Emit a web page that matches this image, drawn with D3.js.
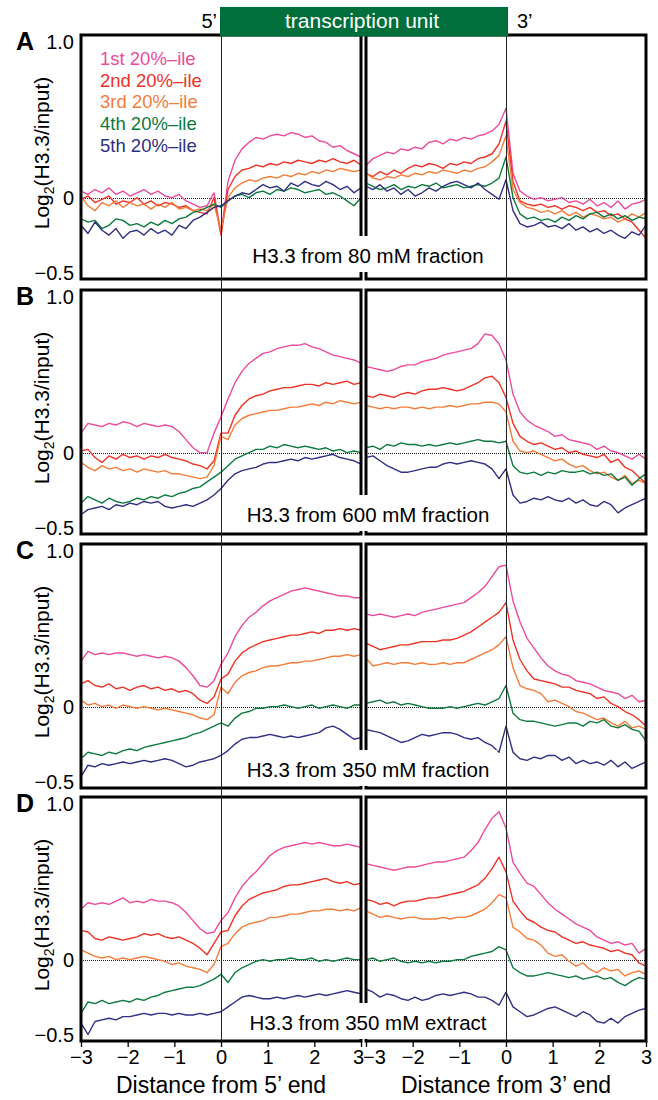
<!DOCTYPE html>
<html>
<head>
<meta charset="utf-8">
<script src="https://cdn.jsdelivr.net/npm/d3@7"></script>
<style>
body { margin: 0; background: #fff; }
svg text { font-family: "Liberation Sans", Arial, Helvetica, sans-serif; }
</style>
</head>
<body>
<div id="dataviz"></div>
<script>
// distance from the end (kb), shared by all profiles
var distance = [-3,-2.85,-2.7,-2.55,-2.4,-2.25,-2.1,-1.95,-1.8,-1.65,
  -1.5,-1.35,-1.2,-1.05,-0.9,-0.75,-0.6,-0.45,-0.3,-0.15,
  0,0.15,0.3,0.45,0.6,0.75,0.9,1.05,1.2,1.35,
  1.5,1.65,1.8,1.95,2.1,2.25,2.4,2.55,2.7,2.85,3];

var seriesNames = ["1st 20%\u2013ile", "2nd 20%\u2013ile", "3rd 20%\u2013ile", "4th 20%\u2013ile", "5th 20%\u2013ile"];
var seriesColors = ["#ec4a9c", "#ee3226", "#f47c3a", "#0d7a3e", "#2e2f85"];
var panelLetters = ["A", "B", "C", "D"];
var panelLabels = ["H3.3 from 80 mM fraction", "H3.3 from 600 mM fraction", "H3.3 from 350 mM fraction", "H3.3 from 350 mM extract"];
var yTicks = [1, 0, -0.5];
var yTickLabels = ["1.0", "0", "\u22120.5"];
var xTicks = [-3, -2, -1, 0, 1, 2, 3];
var xTitles = ["Distance from 5\u2019 end", "Distance from 3\u2019 end"];

// log2(H3.3/input), one row per quintile (1st..5th)
var a5prime = [
  [0.04,0.02,0.05,0.03,0.06,0.02,0.04,0.01,0.03,0.05, 0.02,0.04,0.01,0.00,0.02,-0.02,-0.04,-0.06,-0.05,0.03, -0.22,0.10,0.23,0.30,0.34,0.37,0.36,0.38,0.39,0.38, 0.40,0.39,0.37,0.38,0.35,0.34,0.31,0.32,0.29,0.27, 0.25],
  [-0.01,0.01,-0.03,-0.01,0.01,-0.04,-0.02,-0.03,0.00,-0.04, -0.02,-0.05,-0.03,-0.04,-0.06,-0.05,-0.08,-0.09,-0.10,0.00, -0.23,0.05,0.13,0.17,0.18,0.20,0.19,0.21,0.20,0.22, 0.21,0.23,0.22,0.21,0.23,0.22,0.24,0.22,0.21,0.23, 0.20],
  [0.01,-0.05,-0.08,-0.03,-0.05,-0.02,-0.06,-0.03,-0.05,-0.04, -0.07,-0.04,-0.06,-0.03,-0.07,-0.06,-0.08,-0.07,-0.08,-0.04, -0.20,0.00,0.06,0.09,0.11,0.10,0.12,0.13,0.12,0.14, 0.13,0.15,0.14,0.16,0.15,0.17,0.16,0.18,0.17,0.16, 0.17],
  [-0.13,-0.15,-0.14,-0.19,-0.17,-0.13,-0.14,-0.17,-0.16,-0.18, -0.15,-0.17,-0.14,-0.16,-0.13,-0.12,-0.09,-0.08,-0.06,-0.04, -0.06,-0.02,0.01,0.02,0.00,0.03,0.04,0.02,0.05,0.04, 0.06,0.05,0.03,0.04,0.05,0.02,0.03,0.01,-0.02,-0.05, 0.00],
  [-0.17,-0.22,-0.15,-0.20,-0.23,-0.19,-0.25,-0.21,-0.20,-0.23, -0.19,-0.22,-0.20,-0.23,-0.17,-0.19,-0.14,-0.12,-0.09,-0.06, -0.05,-0.02,0.01,0.03,0.02,0.05,0.08,0.06,0.07,0.04, 0.09,0.07,0.10,0.08,0.07,0.10,0.08,0.05,0.07,0.03, 0.06]
];
var a3prime = [
  [0.20,0.24,0.26,0.28,0.27,0.30,0.29,0.31,0.30,0.34, 0.35,0.33,0.36,0.35,0.37,0.36,0.38,0.39,0.41,0.45, 0.55,0.15,0.04,0.01,-0.01,0.00,-0.02,-0.01,0.00,-0.03, -0.02,-0.04,-0.01,-0.05,-0.03,-0.06,-0.02,-0.07,-0.04,-0.03, -0.01],
  [0.15,0.13,0.16,0.14,0.17,0.15,0.18,0.20,0.19,0.21, 0.20,0.18,0.21,0.20,0.22,0.21,0.24,0.25,0.27,0.33, 0.47,0.10,-0.02,-0.04,-0.05,-0.04,-0.06,-0.05,-0.07,-0.05, -0.06,-0.08,-0.06,-0.09,-0.08,-0.11,-0.10,-0.13,-0.15,-0.20, -0.25],
  [0.15,0.12,0.11,0.13,0.12,0.14,0.13,0.15,0.14,0.16, 0.15,0.17,0.16,0.15,0.17,0.16,0.18,0.19,0.22,0.26, 0.38,0.05,-0.03,-0.06,-0.07,-0.09,-0.08,-0.10,-0.08,-0.11, -0.09,-0.12,-0.10,-0.11,-0.13,-0.12,-0.15,-0.13,-0.10,-0.12, -0.09],
  [0.09,0.07,0.05,0.06,0.08,0.05,0.07,0.06,0.08,0.07, 0.09,0.06,0.07,0.08,0.06,0.07,0.08,0.07,0.09,0.12, 0.25,0.00,-0.10,-0.13,-0.12,-0.14,-0.13,-0.15,-0.12,-0.14, -0.11,-0.13,-0.10,-0.09,-0.12,-0.10,-0.13,-0.11,-0.14,-0.12, -0.13],
  [0.07,0.05,0.08,0.04,0.06,0.02,0.05,0.01,0.03,0.06, 0.04,0.07,0.09,0.10,0.08,0.06,0.09,0.05,0.02,-0.01, 0.11,-0.08,-0.16,-0.18,-0.17,-0.15,-0.18,-0.17,-0.19,-0.16, -0.20,-0.18,-0.21,-0.19,-0.22,-0.20,-0.23,-0.25,-0.21,-0.23, -0.17]
];
var b5prime = [
  [0.12,0.18,0.17,0.16,0.18,0.17,0.19,0.18,0.16,0.18, 0.17,0.16,0.17,0.16,0.13,0.08,0.03,0.00,0.00,0.12, 0.22,0.33,0.43,0.50,0.55,0.58,0.61,0.62,0.64,0.65, 0.66,0.66,0.67,0.65,0.64,0.62,0.60,0.59,0.58,0.57, 0.55],
  [0.01,0.02,-0.03,-0.06,-0.02,-0.04,-0.01,-0.03,-0.02,-0.04, -0.02,-0.03,-0.01,-0.03,-0.04,-0.05,-0.07,-0.08,-0.10,-0.05, 0.12,0.12,0.23,0.29,0.33,0.35,0.36,0.38,0.39,0.40, 0.40,0.41,0.42,0.42,0.41,0.43,0.42,0.43,0.44,0.42, 0.43],
  [-0.06,-0.09,-0.11,-0.08,-0.10,-0.09,-0.11,-0.10,-0.12,-0.10, -0.11,-0.12,-0.11,-0.13,-0.13,-0.14,-0.15,-0.16,-0.15,-0.08, 0.10,0.08,0.17,0.21,0.23,0.24,0.25,0.26,0.26,0.27, 0.28,0.28,0.29,0.30,0.29,0.31,0.30,0.32,0.31,0.30, 0.31],
  [-0.31,-0.27,-0.29,-0.31,-0.28,-0.30,-0.31,-0.30,-0.28,-0.29, -0.27,-0.28,-0.26,-0.27,-0.25,-0.24,-0.22,-0.21,-0.18,-0.15, -0.12,-0.08,-0.04,-0.02,0.00,0.02,0.02,0.04,0.03,0.05, 0.04,0.03,0.04,0.03,0.02,0.03,0.01,0.02,0.00,0.01, 0.00],
  [-0.38,-0.35,-0.34,-0.33,-0.35,-0.32,-0.33,-0.31,-0.32,-0.30, -0.31,-0.30,-0.33,-0.34,-0.33,-0.32,-0.33,-0.31,-0.29,-0.26, -0.22,-0.17,-0.13,-0.11,-0.10,-0.09,-0.07,-0.06,-0.06,-0.05, -0.04,-0.05,-0.03,-0.04,-0.03,-0.02,-0.01,-0.03,-0.04,-0.05, -0.07]
];
var b3prime = [
  [0.53,0.52,0.51,0.50,0.51,0.53,0.54,0.54,0.56,0.57, 0.58,0.60,0.61,0.62,0.63,0.64,0.67,0.73,0.72,0.67, 0.57,0.36,0.25,0.20,0.17,0.15,0.13,0.10,0.11,0.08, 0.07,0.06,0.05,0.02,0.04,0.01,0.00,-0.02,-0.04,-0.01, -0.04],
  [0.35,0.34,0.36,0.35,0.34,0.36,0.37,0.36,0.38,0.39, 0.39,0.40,0.39,0.38,0.39,0.41,0.43,0.46,0.47,0.43, 0.34,0.18,0.10,0.07,0.05,0.06,0.04,0.02,0.03,0.00, 0.01,-0.01,-0.02,-0.03,-0.01,-0.06,-0.04,-0.09,-0.11,-0.15, -0.19],
  [0.29,0.28,0.27,0.28,0.27,0.28,0.28,0.27,0.28,0.27, 0.28,0.28,0.29,0.28,0.29,0.30,0.30,0.31,0.31,0.30, 0.25,0.07,0.01,0.00,0.01,-0.01,-0.03,-0.05,-0.04,-0.07, -0.09,-0.08,-0.11,-0.13,-0.12,-0.15,-0.17,-0.14,-0.19,-0.17, -0.19],
  [0.03,0.04,0.02,0.05,0.04,0.06,0.05,0.05,0.04,0.05, 0.04,0.05,0.06,0.05,0.06,0.07,0.08,0.07,0.07,0.06, 0.07,-0.08,-0.12,-0.13,-0.12,-0.14,-0.12,-0.13,-0.11,-0.12, -0.12,-0.11,-0.13,-0.12,-0.14,-0.13,-0.17,-0.15,-0.20,-0.16, -0.13],
  [-0.03,-0.02,-0.05,-0.08,-0.10,-0.12,-0.12,-0.11,-0.10,-0.09, -0.09,-0.07,-0.06,-0.07,-0.06,-0.05,-0.06,-0.07,-0.10,-0.16, -0.10,-0.26,-0.31,-0.30,-0.28,-0.29,-0.27,-0.29,-0.30,-0.28, -0.31,-0.29,-0.32,-0.33,-0.30,-0.32,-0.37,-0.34,-0.32,-0.30, -0.28]
];
var c5prime = [
  [0.28,0.34,0.32,0.33,0.32,0.33,0.33,0.32,0.31,0.32, 0.31,0.30,0.31,0.30,0.28,0.24,0.19,0.13,0.12,0.16, 0.26,0.33,0.43,0.50,0.55,0.58,0.62,0.65,0.67,0.69, 0.71,0.72,0.73,0.72,0.71,0.70,0.69,0.68,0.68,0.67, 0.67],
  [0.14,0.16,0.13,0.12,0.14,0.11,0.12,0.10,0.12,0.13, 0.11,0.12,0.10,0.11,0.09,0.10,0.08,0.04,0.02,0.06, 0.17,0.20,0.28,0.33,0.36,0.38,0.40,0.41,0.42,0.43, 0.44,0.44,0.45,0.46,0.45,0.47,0.47,0.48,0.47,0.48, 0.47],
  [0.04,0.01,0.02,0.00,0.01,-0.01,0.01,0.00,-0.01,0.00, -0.01,-0.02,-0.01,-0.02,-0.03,-0.04,-0.05,-0.07,-0.08,-0.05, 0.12,0.08,0.15,0.19,0.21,0.22,0.24,0.25,0.25,0.26, 0.27,0.27,0.28,0.28,0.29,0.30,0.31,0.31,0.32,0.31, 0.32],
  [-0.32,-0.28,-0.29,-0.30,-0.28,-0.29,-0.27,-0.26,-0.27,-0.25, -0.24,-0.23,-0.22,-0.21,-0.20,-0.19,-0.17,-0.16,-0.14,-0.12, -0.10,-0.12,-0.07,-0.04,-0.03,-0.01,-0.01,0.00,0.00,0.01, 0.00,-0.01,0.00,0.01,-0.01,0.00,0.01,0.00,-0.01,0.01, 0.01],
  [-0.43,-0.36,-0.37,-0.35,-0.36,-0.35,-0.34,-0.35,-0.34,-0.33, -0.34,-0.33,-0.32,-0.33,-0.35,-0.37,-0.36,-0.34,-0.33,-0.32, -0.30,-0.27,-0.23,-0.20,-0.19,-0.19,-0.18,-0.17,-0.18,-0.19, -0.18,-0.19,-0.18,-0.17,-0.16,-0.13,-0.12,-0.14,-0.17,-0.20, -0.19]
];
var c3prime = [
  [0.57,0.56,0.57,0.56,0.55,0.56,0.57,0.56,0.58,0.59, 0.60,0.61,0.62,0.63,0.64,0.67,0.70,0.74,0.80,0.86, 0.87,0.65,0.52,0.42,0.36,0.30,0.25,0.22,0.20,0.19, 0.16,0.15,0.14,0.12,0.10,0.09,0.08,0.05,0.07,0.03, 0.04],
  [0.39,0.37,0.35,0.36,0.37,0.38,0.38,0.39,0.40,0.40, 0.40,0.41,0.41,0.42,0.44,0.46,0.49,0.52,0.55,0.58, 0.64,0.41,0.29,0.22,0.17,0.16,0.15,0.14,0.12,0.12, 0.10,0.09,0.08,0.05,0.06,0.02,0.00,-0.03,-0.05,-0.08, -0.12],
  [0.30,0.25,0.26,0.27,0.26,0.27,0.27,0.26,0.27,0.26, 0.26,0.27,0.26,0.27,0.27,0.29,0.31,0.33,0.35,0.38, 0.43,0.24,0.13,0.11,0.10,0.08,0.03,0.04,0.02,0.00, -0.03,-0.04,-0.06,-0.08,-0.07,-0.10,-0.12,-0.09,-0.13,-0.12, -0.14],
  [0.02,0.03,0.04,0.02,0.03,0.01,0.02,0.01,0.00,-0.01, -0.01,-0.01,0.00,-0.01,0.00,0.01,0.02,0.01,0.03,0.05, 0.13,-0.04,-0.08,-0.09,-0.09,-0.10,-0.11,-0.12,-0.11,-0.10, -0.10,-0.12,-0.09,-0.10,-0.08,-0.12,-0.13,-0.11,-0.14,-0.15, -0.21],
  [-0.14,-0.15,-0.16,-0.18,-0.20,-0.22,-0.21,-0.19,-0.17,-0.18, -0.17,-0.16,-0.16,-0.17,-0.19,-0.20,-0.19,-0.22,-0.24,-0.28, -0.12,-0.28,-0.32,-0.33,-0.31,-0.32,-0.30,-0.30,-0.33,-0.31, -0.35,-0.33,-0.35,-0.34,-0.36,-0.33,-0.37,-0.34,-0.38,-0.36, -0.34]
];
var d5prime = [
  [0.31,0.35,0.34,0.35,0.34,0.36,0.38,0.35,0.36,0.35, 0.37,0.36,0.36,0.35,0.33,0.29,0.24,0.19,0.16,0.17, 0.24,0.29,0.38,0.45,0.50,0.54,0.59,0.64,0.67,0.69, 0.70,0.71,0.72,0.71,0.72,0.71,0.70,0.70,0.71,0.70, 0.69],
  [0.18,0.17,0.13,0.12,0.14,0.13,0.12,0.13,0.14,0.16, 0.15,0.16,0.14,0.13,0.14,0.12,0.10,0.07,0.03,0.10, 0.17,0.18,0.27,0.33,0.37,0.39,0.41,0.42,0.43,0.45, 0.46,0.46,0.47,0.48,0.49,0.50,0.48,0.47,0.48,0.46, 0.47],
  [0.06,0.04,0.02,0.01,0.02,0.00,0.01,0.00,0.01,0.02, 0.01,0.00,-0.01,-0.03,-0.02,-0.04,-0.05,-0.06,-0.08,-0.03, 0.08,0.10,0.16,0.20,0.22,0.23,0.24,0.26,0.26,0.27, 0.28,0.28,0.29,0.30,0.30,0.31,0.31,0.30,0.31,0.30, 0.32],
  [-0.33,-0.26,-0.27,-0.25,-0.27,-0.26,-0.25,-0.26,-0.24,-0.25, -0.23,-0.22,-0.20,-0.19,-0.18,-0.17,-0.17,-0.16,-0.14,-0.12, -0.09,-0.14,-0.08,-0.05,-0.03,-0.01,0.00,-0.01,0.00,0.00, 0.01,0.00,0.00,0.01,-0.01,0.00,-0.01,0.00,0.01,0.00, 0.00],
  [-0.39,-0.46,-0.38,-0.37,-0.36,-0.37,-0.35,-0.35,-0.34,-0.33, -0.34,-0.33,-0.33,-0.34,-0.33,-0.34,-0.34,-0.33,-0.34,-0.33, -0.32,-0.29,-0.26,-0.23,-0.22,-0.23,-0.24,-0.24,-0.23,-0.24, -0.23,-0.22,-0.23,-0.22,-0.21,-0.22,-0.21,-0.20,-0.19,-0.20, -0.21]
];
var d3prime = [
  [0.59,0.58,0.57,0.56,0.55,0.56,0.57,0.57,0.58,0.59, 0.60,0.60,0.61,0.62,0.63,0.67,0.72,0.80,0.87,0.91, 0.81,0.60,0.53,0.47,0.45,0.40,0.35,0.31,0.28,0.25, 0.22,0.20,0.18,0.14,0.12,0.10,0.11,0.09,0.10,0.04, 0.07],
  [0.37,0.36,0.34,0.35,0.33,0.35,0.36,0.36,0.37,0.38, 0.38,0.39,0.40,0.41,0.42,0.44,0.46,0.50,0.56,0.63, 0.54,0.36,0.30,0.25,0.23,0.20,0.18,0.17,0.14,0.12, 0.10,0.11,0.09,0.08,0.07,0.05,0.06,0.04,0.03,-0.02, -0.04],
  [0.30,0.28,0.26,0.27,0.26,0.25,0.26,0.26,0.25,0.25, 0.25,0.26,0.25,0.26,0.26,0.27,0.29,0.31,0.35,0.40, 0.38,0.20,0.17,0.13,0.12,0.09,0.04,0.02,0.03,-0.01, -0.04,-0.02,-0.06,-0.08,-0.05,-0.07,-0.06,-0.10,-0.08,-0.07, -0.09],
  [0.00,0.01,-0.01,0.00,0.01,-0.01,-0.02,-0.01,-0.02,-0.01, -0.02,-0.01,-0.01,0.00,0.00,0.02,0.03,0.04,0.05,0.08, 0.06,-0.05,-0.08,-0.10,-0.10,-0.09,-0.08,-0.09,-0.10,-0.11, -0.10,-0.12,-0.11,-0.10,-0.12,-0.11,-0.14,-0.16,-0.13,-0.11, -0.12],
  [-0.18,-0.20,-0.23,-0.21,-0.22,-0.24,-0.25,-0.23,-0.25,-0.24, -0.22,-0.21,-0.22,-0.21,-0.20,-0.21,-0.23,-0.23,-0.25,-0.28, -0.20,-0.29,-0.32,-0.35,-0.34,-0.32,-0.30,-0.29,-0.31,-0.33, -0.35,-0.32,-0.34,-0.38,-0.39,-0.36,-0.39,-0.35,-0.33,-0.31, -0.30]
];

var panels = [[a5prime, a3prime], [b5prime, b3prime], [c5prime, c3prime], [d5prime, d3prime]];

// layout
var width = 658, height = 1100;
var panelTop = [35, 290, 544, 797];
var panelH = 244;
var labelBase = [263, 522, 777, 1030];
var sideRange = [[81, 361], [366, 646]];
var bottomY = panelTop[3] + panelH;

var svg = d3.select("#dataviz")
  .append("svg")
    .attr("width", width)
    .attr("height", height);

var xSide = sideRange.map(function(r) {
  return d3.scaleLinear().domain([-3, 3]).range(r);
});

panels.forEach(function(pair, p) {
  var top = panelTop[p];
  var y = d3.scaleLinear().domain([-0.5, 1]).range([top + panelH, top]);

  pair.forEach(function(series, s) {
    var x = xSide[s];
    var clipId = "clip" + p + "_" + s;
    svg.append("clipPath").attr("id", clipId)
      .append("rect")
        .attr("x", x(-3)).attr("y", top)
        .attr("width", x(3) - x(-3)).attr("height", panelH);

    // dotted zero line
    svg.append("line")
      .attr("x1", x(-3)).attr("x2", x(3))
      .attr("y1", Math.round(y(0)) + 0.5).attr("y2", Math.round(y(0)) + 0.5)
      .attr("stroke", "#222")
      .attr("stroke-width", 1)
      .attr("stroke-dasharray", "1,1");

    var line = d3.line()
      .x(function(d) { return x(d[0]); })
      .y(function(d) { return y(d[1]); });

    var g = svg.append("g").attr("clip-path", "url(#" + clipId + ")");
    series.forEach(function(vals, k) {
      g.append("path")
        .datum(d3.zip(distance, vals))
        .attr("fill", "none")
        .attr("stroke", seriesColors[k])
        .attr("stroke-width", 1.4)
        .attr("stroke-linejoin", "round")
        .attr("d", line);
    });

    // frame
    svg.append("rect")
      .attr("x", x(-3)).attr("y", top)
      .attr("width", x(3) - x(-3)).attr("height", panelH)
      .attr("fill", "none")
      .attr("stroke", "#000")
      .attr("stroke-width", 3);
  });

  // y tick labels
  yTicks.forEach(function(v, i) {
    var off = v === 1 ? 14 : (v === 0 ? 7 : 1);
    svg.append("text")
      .attr("x", 74)
      .attr("y", y(v) + off)
      .attr("text-anchor", "end")
      .style("font-size", "20px")
      .text(yTickLabels[i]);
  });

  // panel letter
  svg.append("text")
    .attr("x", 16)
    .attr("y", top + 15)
    .style("font-size", "25px")
    .style("font-weight", "bold")
    .text(panelLetters[p]);

  // y title
  var yt = svg.append("text")
    .attr("transform", "translate(49," + (top + panelH / 2 - 4) + ") rotate(-90)")
    .attr("text-anchor", "middle")
    .style("font-size", "21px");
  yt.append("tspan").text("Log");
  yt.append("tspan").attr("dy", 5).style("font-size", "14px").text("2");
  yt.append("tspan").attr("dy", -5).text("(H3.3/input)");

  // fraction label on white box
  var lbl = svg.append("text")
    .attr("x", 368)
    .attr("y", labelBase[p])
    .attr("text-anchor", "middle")
    .style("font-size", "20.5px")
    .text(panelLabels[p]);
  var bb = lbl.node().getBBox();
  svg.insert("rect", function() { return lbl.node(); })
    .attr("x", bb.x - 8)
    .attr("y", labelBase[p] - 27)
    .attr("width", bb.width + 16)
    .attr("height", Math.min(36, top + panelH - 1 - (labelBase[p] - 27)))
    .attr("fill", "#fff");
});

// vertical lines at the ends
xSide.forEach(function(x) {
  var vx = Math.round(x(0)) + 0.5;
  svg.append("line")
    .attr("x1", vx).attr("x2", vx)
    .attr("y1", panelTop[0]).attr("y2", bottomY)
    .attr("stroke", "#222")
    .attr("stroke-width", 1);
});

// transcription unit bar
var barX0 = xSide[0](0) - 1, barX1 = xSide[1](0) + 2;
svg.append("rect")
  .attr("x", barX0).attr("y", 7)
  .attr("width", barX1 - barX0).attr("height", panelTop[0] + 1.5 - 7)
  .attr("fill", "#006f3b");
svg.append("text")
  .attr("x", (barX0 + barX1) / 2 - 2)
  .attr("y", 28)
  .attr("text-anchor", "middle")
  .attr("fill", "#fff")
  .style("font-size", "21px")
  .text("transcription unit");
svg.append("text")
  .attr("x", barX0 - 3).attr("y", 28)
  .attr("text-anchor", "end")
  .style("font-size", "20px")
  .text("5\u2019");
svg.append("text")
  .attr("x", barX1 + 9).attr("y", 28)
  .style("font-size", "20px")
  .text("3\u2019");

// legend
seriesNames.forEach(function(name, k) {
  svg.append("text")
    .attr("x", 100)
    .attr("y", 65 + k * 21.7)
    .attr("fill", seriesColors[k])
    .style("font-size", "18.5px")
    .text(name);
});

// bottom axes
xSide.forEach(function(x, s) {
  var ax = svg.append("g")
    .attr("transform", "translate(0," + bottomY + ")")
    .call(d3.axisBottom(x).tickValues(xTicks).tickFormat(d3.format("d")).tickSize(6).tickPadding(3));
  ax.select(".domain").remove();
  ax.selectAll("line").attr("stroke", "#000").attr("stroke-width", 1.3);
  ax.selectAll("text")
    .attr("fill", "#000")
    .style("font-size", "20px")
    .style("font-family", "'Liberation Sans', Arial, sans-serif");

  // the inner "3" and "−3" sit side by side at the break
  ax.selectAll(".tick text")
    .filter(function(d) { return (s === 0 && d === 3) || (s === 1 && d === -3); })
    .attr("text-anchor", s === 0 ? "end" : "start")
    .attr("x", s === 0 ? 2.5 : -3.5);

  svg.append("text")
    .attr("x", (x(-3) + x(3)) / 2)
    .attr("y", 1093)
    .attr("text-anchor", "middle")
    .style("font-size", "23px")
    .text(xTitles[s]);
});
</script>
</body>
</html>
